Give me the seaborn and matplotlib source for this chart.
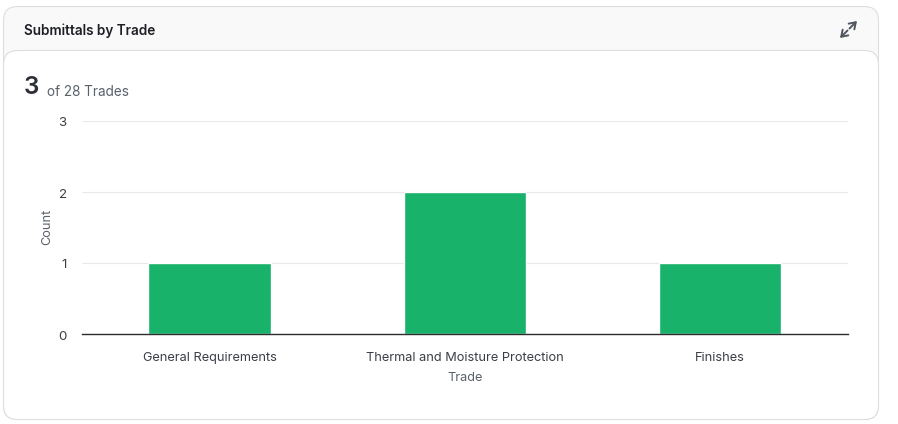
import matplotlib
matplotlib.use("Agg")
import matplotlib.pyplot as plt
from matplotlib.patches import FancyBboxPatch
from matplotlib.transforms import ScaledTranslation
import pandas as pd
import seaborn as sns

trades = ["General Requirements", "Thermal and Moisture Protection", "Finishes"]
counts = [1, 2, 1]
y_ticks = [0, 1, 2, 3]
title = "Submittals by Trade"
summary_value = "3"
summary_text = "of 28 Trades"
x_label = "Trade"
y_label = "Count"

W, H = 898, 424
sns.set_theme(style="white")
plt.rcParams["font.family"] = ["Inter", "DejaVu Sans"]

fig = plt.figure(figsize=(W / 100, H / 100), dpi=100, facecolor="white")

bg = fig.add_axes([0, 0, 1, 1], zorder=0)
bg.set_xlim(0, W)
bg.set_ylim(H, 0)
bg.axis("off")
bg.add_patch(FancyBboxPatch((3.5, 6.5), 875, 413, boxstyle="round,pad=0,rounding_size=14",
                            fc="#f9f9f9", ec="#dedede", lw=0.8, mutation_aspect=1))
bg.add_patch(FancyBboxPatch((3.5, 50.5), 875, 369, boxstyle="round,pad=0,rounding_size=14",
                            fc="white", ec="#dedede", lw=0.8, mutation_aspect=1))
bg.text(24, 31, title, fontsize=9.75, fontweight="semibold", color="#1d1f24", va="center", ha="left")
bg.text(23.5, 88, summary_value, fontsize=17.5, fontweight="semibold", color="#2c2f36", va="center", ha="left")
bg.text(47, 91.5, summary_text, fontsize=9.75, color="#5b616b", va="center", ha="left")

arrow = dict(arrowstyle="->,head_length=0.36,head_width=0.24", color="#50555e", lw=1.4, shrinkA=0, shrinkB=0)
bg.annotate("", xy=(857, 21), xytext=(849.5, 28.5), arrowprops=arrow)
bg.annotate("", xy=(840, 38), xytext=(847.5, 30.5), arrowprops=arrow)

L, R, T, B = 82, 847.5, 121, 334
ax = fig.add_axes([L / W, 1 - B / H, (R - L) / W, (B - T) / H], zorder=1)
ax.patch.set_alpha(0)
df = pd.DataFrame({"Trade": trades, "Count": counts})
sns.barplot(data=df, x="Trade", y="Count", color="#18b26b", saturation=1, width=0.48, ax=ax, zorder=3)
ax.set_xlim(-0.5, 2.5)
ax.set_ylim(0, 3)
ax.set_yticks(y_ticks)
ax.grid(axis="y", color="#e9e9e9", lw=0.8, zorder=0)
ax.grid(axis="x", visible=False)
ax.set_axisbelow(True)
for s in ("top", "right", "left"):
    ax.spines[s].set_visible(False)
ax.spines["bottom"].set_color("#2c2c2c")
ax.spines["bottom"].set_linewidth(1.0)
ax.spines["bottom"].set_zorder(5)
ax.tick_params(axis="x", length=0, pad=13, labelsize=9.2, labelcolor="#3a3f47")
ax.tick_params(axis="y", length=0, pad=11, labelsize=9.6, labelcolor="#3a3f47")
shift = ScaledTranslation(0, -1 / 100, fig.dpi_scale_trans)
for t in ax.get_yticklabels():
    t.set_verticalalignment("center_baseline")
    t.set_transform(t.get_transform() + shift)
ax.set_xlabel(x_label, fontsize=9.2, color="#5b616b", labelpad=6)
ax.set_ylabel(y_label, fontsize=9.2, color="#5b616b", labelpad=4)
ax.yaxis.label.set_y(0.505)

fig.savefig("out.png", dpi=100, facecolor="white")
